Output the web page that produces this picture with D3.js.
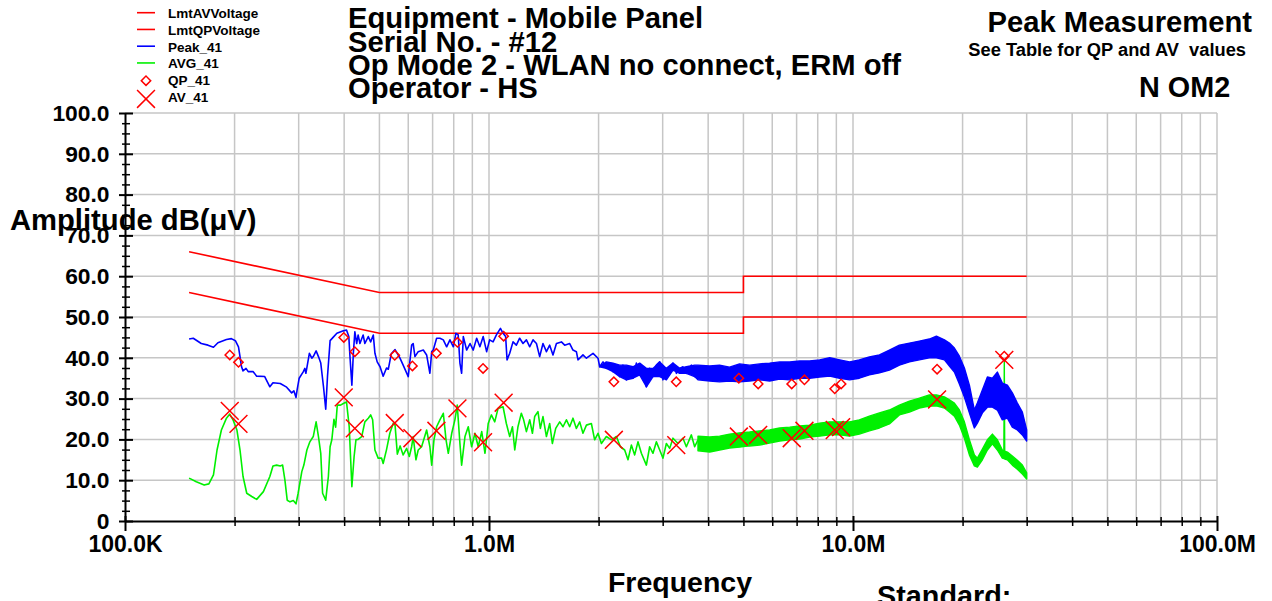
<!DOCTYPE html>
<html><head><meta charset="utf-8">
<script src="https://cdn.jsdelivr.net/npm/d3@7"></script>
<style>
body{margin:0;background:#fff;}
svg{display:block;font-family:"Liberation Sans",Arial,sans-serif;font-weight:bold;}
</style></head><body>
<svg id="chart" width="1272" height="601"></svg>
<script>
// ---------------- DATA ----------------
const xTickValues = [0.1, 1, 10, 100];               // MHz
const xTickLabels = ["100.0K", "1.0M", "10.0M", "100.0M"];
const yTickValues = [0,10,20,30,40,50,60,70,80,90,100];
const yTickLabels = ["0","10.0","20.0","30.0","40.0","50.0","60.0","70.0","80.0","90.0","100.0"];

const legendNames = ["LmtAVVoltage","LmtQPVoltage","Peak_41","AVG_41","QP_41","AV_41"];

// limit lines (MHz, dBuV)
const lmtF   = [0.15, 0.5, 5, 5, 30];
const lmtQPV = [66, 56, 56, 60, 60];
const lmtAVV = [56, 46, 46, 50, 50];

// Peak_41 trace, single line part (MHz, dBuV)
const peakF = [0.150,0.154,0.162,0.169,0.175,0.180,0.190,0.196,0.201,0.205,
0.207,0.209,0.211,0.215,0.218,0.225,0.230,0.242,0.250,0.255,
0.267,0.278,0.287,0.291,0.295,0.297,0.301,0.309,0.312,0.314,
0.321,0.326,0.329,0.335,0.340,0.345,0.351,0.356,0.360,0.366,
0.373,0.382,0.398,0.406,0.412,0.415,0.420,0.424,0.428,0.433,
0.437,0.442,0.451,0.456,0.466,0.473,0.481,0.486,0.493,0.502,
0.512,0.523,0.529,0.539,0.552,0.569,0.581,0.600,0.613,0.619,
0.626,0.639,0.660,0.674,0.688,0.696,0.703,0.718,0.733,0.749,
0.765,0.781,0.798,0.811,0.823,0.832,0.841,0.850,0.868,0.887,
0.905,0.925,0.944,0.964,0.985,1.004,1.026,1.048,1.075,1.093,
1.111,1.121,1.140,1.164,1.189,1.214,1.240,1.267,1.294,1.321,
1.350,1.378,1.407,1.438,1.468,1.499,1.532,1.581,1.614,1.666,
1.701,1.738,1.756,1.812,1.852,1.931,1.993,2.014,2.057,2.101,
2.146,2.191,2.239,2.286,2.334,2.385,2.435,2.486,2.540,2.594,
2.649,2.706,2.763,2.822,2.883,2.944,3.006,3.071,3.136,3.202,
3.272,3.341,3.411,3.485,3.597,3.673,3.751];
const peakV = [44.6,44.8,43.5,43.1,42.6,43.7,44.5,44.7,44.2,42.7,
40.3,37.8,36.8,37.4,36.6,36.6,35.5,35.4,32.9,33.9,
33.7,32.8,31.4,31.9,30.3,32.1,35.0,36.6,37.4,36.2,
41.1,39.9,40.3,41.7,40.3,38.7,32.9,27.4,35.4,44.2,
45.0,46.0,46.6,46.8,45.2,40.3,33.3,41.1,46.4,43.5,
45.6,43.5,45.6,43.5,45.2,43.9,45.6,41.1,39.0,37.8,
35.5,37.5,37.2,41.0,42.0,40.0,38.2,35.4,43.1,43.5,
40.3,41.5,41.9,40.7,36.2,41.5,41.9,44.8,44.8,44.4,
42.7,44.4,42.7,46.0,45.6,38.7,36.2,45.2,41.9,43.5,
41.9,44.8,42.7,45.2,41.5,44.4,43.9,45.6,47.2,46.0,
45.2,39.5,41.1,43.9,43.1,44.8,43.5,44.4,42.7,44.4,
43.5,40.3,43.5,41.5,43.1,40.7,43.5,43.9,43.1,43.5,
41.9,41.5,39.5,40.7,39.9,41.1,39.9,37.8,39.0,37.4,
38.7,36.6,38.2,35.4,38.2,34.6,37.8,35.0,38.7,35.8,
37.4,32.9,37.4,35.4,38.2,39.0,34.6,37.4,37.0,38.7,
36.2,37.4,37.8,36.2,38.2,35.4,37.8];

// Peak_41 dense part: envelope (max / min) per frequency
const peakBandF  = [2.014,2.101,2.191,2.286,2.385,2.486,2.594,2.706,2.822,2.944,3.071,3.202,3.341,3.485,3.673,
3.751,4.04,4.30,4.58,4.88,5.20,5.54,5.90,6.29,6.70,7.14,7.60,8.10,8.63,9.19,9.79,10.41,11.09,11.82,12.59,13.41,14.29,15.22,16.21,16.95,17.83,18.40,18.99,19.60,20.23,20.88,21.55,21.96,22.67,23.40,24.15,24.92,25.72,26.55,27.40,28.28,29.19,30.0];
const peakBandHi = [37.8,39.0,38.7,38.2,38.2,37.8,38.7,37.4,37.4,39.0,37.4,38.7,37.4,37.8,38.2,
38.2,38.0,38.2,37.7,38.5,38.2,38.5,38.7,39.0,39.0,39.2,39.2,39.5,40.0,39.5,39.0,39.5,40.2,40.7,41.9,43.1,43.6,44.1,44.6,45.3,44.4,43.6,42.4,40.4,37.5,33.3,27.2,28.9,32.1,35.3,35.0,36.5,33.8,33.3,31.4,28.9,26.7,22.3];
const peakBandLo = [37.8,37.4,36.6,35.4,34.6,35.0,35.8,32.9,35.4,35.4,34.6,37.0,36.2,36.2,35.4,
34.6,34.3,34.1,34.3,34.1,34.3,34.6,34.3,34.8,34.6,35.0,35.0,35.3,35.5,35.0,34.6,35.0,35.8,36.3,37.0,38.2,39.0,39.5,40.0,40.0,39.5,38.0,36.5,33.6,30.4,26.5,22.8,24.0,26.5,27.9,27.9,27.2,24.8,25.2,23.0,22.3,21.1,19.6];

// AVG_41 trace, single line part
const avgF = [0.150,0.157,0.165,0.170,0.175,0.179,0.184,0.190,0.194,0.198,
0.203,0.207,0.211,0.216,0.223,0.230,0.240,0.250,0.255,0.261,
0.267,0.271,0.275,0.279,0.284,0.290,0.295,0.299,0.306,0.310,
0.316,0.322,0.329,0.335,0.340,0.345,0.349,0.356,0.362,0.366,
0.370,0.375,0.379,0.383,0.391,0.398,0.406,0.413,0.420,0.426,
0.431,0.437,0.447,0.456,0.466,0.473,0.479,0.486,0.496,0.507,
0.512,0.523,0.534,0.546,0.552,0.560,0.570,0.581,0.594,0.604,
0.613,0.619,0.630,0.639,0.653,0.674,0.688,0.696,0.706,0.718,
0.733,0.749,0.762,0.773,0.790,0.806,0.818,0.832,0.841,0.859,
0.877,0.896,0.915,0.934,0.955,0.975,0.995,1.015,1.037,1.059,
1.093,1.116,1.140,1.160,1.177,1.201,1.227,1.245,1.267,1.294,
1.316,1.335,1.363,1.384,1.407,1.438,1.468,1.493,1.525,1.564,
1.597,1.632,1.666,1.701,1.738,1.775,1.812,1.852,1.911,1.951,
1.993,2.036,2.101,2.169,2.239,2.296,2.359,2.409,2.461,2.513,
2.566,2.622,2.706,2.763,2.822,2.883,2.944,3.006,3.071,3.136,
3.202,3.305,3.411,3.485,3.597,3.673,3.751];
const avgV = [10.5,9.6,8.8,9.1,11.3,17.4,22.3,25.2,26.2,24.8,
22.3,17.4,10.9,6.8,6.0,5.3,7.2,10.9,13.5,13.7,
13.5,13.7,10.0,5.1,4.7,5.0,4.2,6.8,12.1,13.7,
17.4,19.4,20.7,24.3,20.7,16.6,6.8,5.1,10.9,18.2,
19.9,24.9,23.0,28.4,28.4,28.8,29.2,23.1,8.4,15.8,
19.9,20.0,20.7,24.3,25.2,26.0,24.8,17.4,15.4,15.4,
14.1,17.5,21.5,24.0,23.5,16.4,18.4,16.2,17.8,15.8,
18.2,20.7,15.0,17.4,18.2,22.3,18.2,13.7,19.9,23.1,
24.8,26.4,19.9,16.6,21.5,24.8,28.4,19.0,13.7,20.7,
23.1,18.2,21.5,18.2,21.9,16.6,23.9,26.0,24.3,27.6,
28.0,23.9,20.7,23.1,17.4,23.1,26.4,24.8,21.9,24.8,
21.5,25.6,26.8,22.7,25.6,20.7,23.9,19.0,22.7,24.3,
23.1,24.8,23.1,25.2,22.7,24.3,21.5,23.5,23.9,19.9,
21.5,19.0,20.7,19.9,20.7,18.2,17.4,15.0,18.6,16.2,
19.4,16.6,13.7,18.2,16.6,19.4,17.4,15.4,19.0,17.8,
20.3,19.0,20.3,18.2,21.1,18.2,19.9];

// AVG_41 dense part: envelope
const avgBandF  = [3.751,4.04,4.30,4.58,4.88,5.20,5.54,5.90,6.29,6.70,7.14,7.60,8.10,8.63,9.19,9.79,10.41,11.09,11.82,12.59,13.41,14.29,15.22,16.21,16.95,17.83,18.40,18.99,19.60,20.23,20.88,21.55,21.96,22.67,23.40,24.15,24.92,25.72,25.97,26.04,26.11,26.55,27.40,28.28,29.19,30.0];
const avgBandHi = [20.8,20.6,20.8,21.3,21.6,21.8,22.1,22.3,22.8,23.0,23.3,23.5,24.0,24.3,24.3,24.3,24.8,25.7,26.5,27.2,28.4,29.4,30.1,30.9,30.9,30.4,29.7,28.9,27.2,24.3,19.9,16.2,15.4,17.6,19.9,21.3,19.9,17.4,17.2,39.1,17.1,16.9,15.9,14.9,13.7,11.8];
const avgBandLo = [17.2,16.9,17.4,17.9,18.1,18.4,18.6,19.1,19.6,19.9,20.1,20.6,20.8,21.1,21.1,20.8,21.3,22.1,22.8,23.8,26.0,26.7,27.7,28.2,28.2,27.7,26.7,25.7,23.5,20.3,16.2,13.5,13.2,15.0,17.4,18.9,17.4,15.4,15.3,15.3,15.2,15.0,13.7,12.7,11.5,10.3];

// Final measurements
const measF = [0.194,0.205,0.399,0.428,0.551,0.616,0.717,0.819,0.963,1.097,2.203,3.269,4.857,5.490,6.786,7.356,8.908,9.276,17.02,26.04];
const qpV   = [40.7,38.9,45.0,41.5,40.6,38.0,41.1,43.8,37.4,45.3,34.1,34.1,35.0,33.6,33.6,34.6,32.4,33.6,37.2,40.4];
const avV   = [27.0,23.8,30.3,22.7,24.0,20.3,22.1,27.6,19.3,29.0,19.9,18.6,20.7,21.1,20.3,22.1,22.3,23.0,29.8,39.5];

// ---------------- CHART ----------------
const RED = "#ff0000", BLUE = "#0000ff", GREEN = "#00f000", GRID = "#c6c6c6";
const svg = d3.select("#chart");
const x = d3.scaleLog().domain([0.1, 100]).range([125, 1217]);
const y = d3.scaleLinear().domain([0, 100]).range([521, 113]);

// grid
const gGrid = svg.append("g");
gGrid.selectAll("line.v").data(x.ticks().filter(d => d > 0.1001)).join("line")
  .attr("x1", d => x(d)).attr("x2", d => x(d)).attr("y1", y(0)).attr("y2", y(100))
  .attr("stroke", GRID).attr("stroke-width", 1.5);
gGrid.selectAll("line.h").data(yTickValues.filter(d => d > 0)).join("line")
  .attr("x1", x(0.1)).attr("x2", x(100)).attr("y1", d => y(d)).attr("y2", d => y(d))
  .attr("stroke", GRID).attr("stroke-width", 1.5);

// axes
const yAxis = d3.axisLeft(y).tickValues(yTickValues)
  .tickFormat((d, i) => yTickLabels[i]).tickSizeInner(6).tickSizeOuter(0).tickPadding(9.5);
const gy = svg.append("g").attr("transform", "translate(125,0)").call(yAxis);
gy.selectAll(".tick line").attr("x1", 8).attr("x2", -6).attr("stroke-width", 2);
gy.select(".domain").attr("stroke-width", 2);
gy.selectAll("text").attr("font-size", 22.8).attr("font-weight", "bold")
  .attr("font-family", '"Liberation Sans",Arial,sans-serif').attr("fill", "#000");

const yMinor = d3.axisLeft(y).tickValues(d3.range(0, 100.01, 2.5).filter(d => d % 10 !== 0))
  .tickFormat("").tickSizeInner(3).tickSizeOuter(0);
const gym = svg.append("g").attr("transform", "translate(125,0)").call(yMinor);
gym.select(".domain").remove();
gym.selectAll(".tick line").attr("x1", 5).attr("x2", -3).attr("stroke-width", 1.5);

const xAxis = d3.axisBottom(x).tickValues(xTickValues)
  .tickFormat((d, i) => xTickLabels[i]).tickSizeInner(10).tickSizeOuter(0).tickPadding(5);
const gx = svg.append("g").attr("transform", "translate(0,521)").call(xAxis);
gx.selectAll(".tick line").attr("y1", -5).attr("y2", 10).attr("stroke-width", 2);
gx.select(".domain").attr("stroke-width", 2);
gx.selectAll("text").attr("font-size", 23).attr("font-weight", "bold")
  .attr("font-family", '"Liberation Sans",Arial,sans-serif').attr("fill", "#000");

const xMinor = d3.axisBottom(x).tickValues(x.ticks().filter(d => xTickValues.indexOf(d) < 0))
  .tickFormat("").tickSizeInner(5).tickSizeOuter(0);
const gxm = svg.append("g").attr("transform", "translate(0,521)").call(xMinor);
gxm.select(".domain").remove();
gxm.selectAll(".tick line").attr("y1", -4).attr("y2", 5).attr("stroke-width", 1.5);

// limit lines
const lineGen = d3.line().x(d => x(d[0])).y(d => y(d[1]));
svg.append("path").datum(lmtF.map((f, i) => [f, lmtQPV[i]])).attr("d", lineGen)
  .attr("fill", "none").attr("stroke", RED).attr("stroke-width", 1.6);
svg.append("path").datum(lmtF.map((f, i) => [f, lmtAVV[i]])).attr("d", lineGen)
  .attr("fill", "none").attr("stroke", RED).attr("stroke-width", 1.6);

// traces
const areaGen = d3.area().x(d => x(d[0])).y0(d => y(d[2])).y1(d => y(d[1]));
function trace(fs, vs, bf, bh, bl, color) {
  svg.append("path").datum(bf.map((f, i) => [f, bh[i], bl[i]])).attr("d", areaGen)
    .attr("fill", color).attr("stroke", color).attr("stroke-width", 1.4).attr("stroke-linejoin", "round");
  svg.append("path").datum(fs.map((f, i) => [f, vs[i]])).attr("d", lineGen)
    .attr("fill", "none").attr("stroke", color).attr("stroke-width", 1.6).attr("stroke-linejoin", "round");
}
trace(avgF, avgV, avgBandF, avgBandHi, avgBandLo, GREEN);
trace(peakF, peakV, peakBandF, peakBandHi, peakBandLo, BLUE);

// markers
const diamond = d3.symbol(d3.symbolSquare, 44);
const cross = d3.symbol(d3.symbolX, 210);
svg.append("g").selectAll("path").data(measF.map((f, i) => [f, qpV[i]])).join("path")
  .attr("d", diamond).attr("transform", d => `translate(${x(d[0])},${y(d[1])}) rotate(45)`)
  .attr("fill", "none").attr("stroke", RED).attr("stroke-width", 1.5);
svg.append("g").selectAll("path").data(measF.map((f, i) => [f, avV[i]])).join("path")
  .attr("d", cross).attr("transform", d => `translate(${x(d[0])},${y(d[1])})`)
  .attr("fill", "none").attr("stroke", RED).attr("stroke-width", 1.5);

// legend
const legColors = [RED, RED, BLUE, GREEN, RED, RED];
const leg = svg.append("g");
legendNames.forEach((name, i) => {
  const cy = 12.7 + i * 16.75;
  if (i < 4) {
    leg.append("line").attr("x1", 137).attr("x2", 155).attr("y1", cy).attr("y2", cy)
      .attr("stroke", legColors[i]).attr("stroke-width", 1.6);
  } else if (i === 4) {
    leg.append("path").attr("d", diamond).attr("transform", `translate(146,${cy + 1}) rotate(45)`)
      .attr("fill", "none").attr("stroke", RED).attr("stroke-width", 1.5);
  } else {
    leg.append("path").attr("d", cross).attr("transform", `translate(146,${cy + 2.5})`)
      .attr("fill", "none").attr("stroke", RED).attr("stroke-width", 1.5);
  }
  leg.append("text").attr("x", 168).attr("y", cy + 5.5).attr("font-size", 13.5).text(name);
});

// titles
const titleLines = ["Equipment - Mobile Panel", "Serial No. - #12", "Op Mode 2 - WLAN no connect, ERM off", "Operator - HS"];
titleLines.forEach((t, i) => {
  svg.append("text").attr("x", 348).attr("y", 28.3 + i * 23.35).attr("font-size", 29.2).text(t);
});
svg.append("text").attr("x", 1252).attr("y", 31.7).attr("text-anchor", "end").attr("font-size", 29.2).text("Peak Measurement");
svg.append("text").attr("x", 1246).attr("y", 56).attr("text-anchor", "end").attr("font-size", 18.3)
  .style("white-space", "pre").text("See Table for QP and AV  values");
svg.append("text").attr("x", 1139).attr("y", 97.3).attr("font-size", 28.8).text("N OM2");
svg.append("text").attr("x", 10).attr("y", 230).attr("font-size", 29.2).text("Amplitude dB(\u03BCV)");
svg.append("text").attr("x", 680).attr("y", 591.5).attr("text-anchor", "middle").attr("font-size", 28.5).text("Frequency");
svg.append("text").attr("x", 877).attr("y", 605.5).attr("font-size", 28.8).text("Standard:");
</script></body></html>
